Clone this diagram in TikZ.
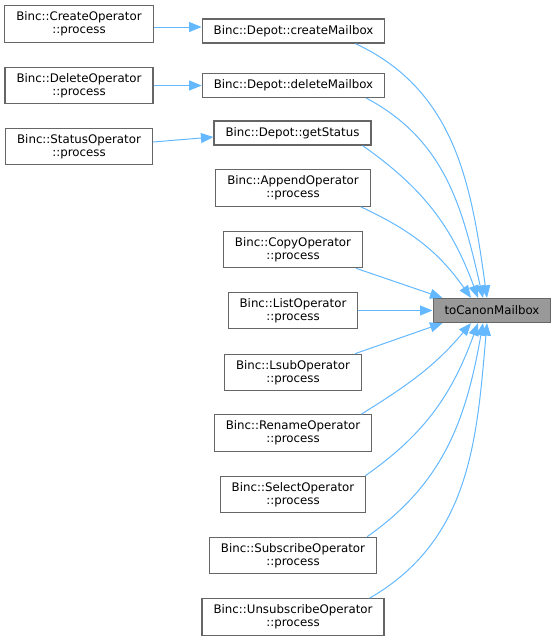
\documentclass[tikz,border=0pt]{standalone}
\usepackage{fontspec}
\setmainfont{DejaVu Sans}
\usetikzlibrary{arrows.meta}

\begin{document}
\begin{tikzpicture}[
  x=1pt, y=1pt,
  every node/.style={font=\fontsize{11.8}{13}\selectfont},
  fnbox/.style={draw=boxgray, line width=1.2pt, fill=white, align=center,
                inner xsep=11.5pt, inner ysep=6pt, minimum height=24pt},
  callarrow/.style={draw=edgeblue, line width=1pt,
                    -{Triangle[length=12.5pt,width=10pt]}},
]

\definecolor{edgeblue}{HTML}{63B8FF}
\definecolor{boxgray}{HTML}{666666}
\definecolor{canongray}{HTML}{999999}

\useasboundingbox (0,0) rectangle (556,-641);

% ============================================================
% NODES
% ============================================================
% left column: callers of the Depot methods
\foreach \name/\ypos/\lbl in {
  create/-24/Binc::CreateOperator\\::process,
  delete/-85.5/Binc::DeleteOperator\\::process,
  status/-146.5/Binc::StatusOperator\\::process}{
  \node[fnbox] (\name) at (79,\ypos) {\lbl};
}

% middle column
\node[fnbox] (createM) at (293.5,-31)   {Binc::Depot::createMailbox};
\node[fnbox] (deleteM) at (293.5,-85.5) {Binc::Depot::deleteMailbox};
\node[fnbox] (getS)    at (292.5,-133)  {Binc::Depot::getStatus};

\foreach \name/\ypos/\lbl in {
  append/-188/Binc::AppendOperator\\::process,
  copy/-249.5/Binc::CopyOperator\\::process,
  list/-310.5/Binc::ListOperator\\::process,
  lsub/-372.5/Binc::LsubOperator\\::process,
  rename/-433/Binc::RenameOperator\\::process,
  select/-494.5/Binc::SelectOperator\\::process,
  subscribe/-555.5/Binc::SubscribeOperator\\::process,
  unsub/-617/Binc::UnsubscribeOperator\\::process}{
  \node[fnbox] (\name) at (293,\ypos) {\lbl};
}

% the function itself
\node[fnbox, fill=canongray] (canon) at (492,-310.5) {toCanonMailbox};

% ============================================================
% CONNECTORS
% ============================================================
\draw[callarrow] ([yshift=-3pt]create.east) -- ([yshift=4pt]createM.west);
\draw[callarrow] (delete.east) -- (deleteM.west);
\draw[callarrow] ([yshift=4.5pt]status.east) -- ([yshift=-4pt]getS.west);

% upper callers -> top of canon
\foreach \src/\sx/\tx/\o/\i in {
  createM/-30/-5/-25/98,
  deleteM/-19/-9/-28/103,
  getS/-9/-14/-35/110,
  append/-10/-21/-25/125}{
  \draw[callarrow] ([xshift=\sx pt]\src.south east)
    to[out=\o, in=\i] ([xshift=\tx pt]canon.north);
}
\draw[callarrow] ([xshift=-7pt]copy.south east) -- ([xshift=10pt]canon.north west);
\draw[callarrow] (list.east) -- (canon.west);
\draw[callarrow] ([xshift=-7pt]lsub.north east) -- ([xshift=10pt]canon.south west);

% lower callers -> bottom of canon
\foreach \src/\sx/\tx/\o/\i in {
  rename/-11/-21/32/-130,
  select/-1/-14/35/-110,
  subscribe/-10/-9/35/-100,
  unsub/-15/-5/30/-95}{
  \draw[callarrow] ([xshift=\sx pt]\src.north east)
    to[out=\o, in=\i] ([xshift=\tx pt]canon.south);
}

\end{tikzpicture}
\end{document}
